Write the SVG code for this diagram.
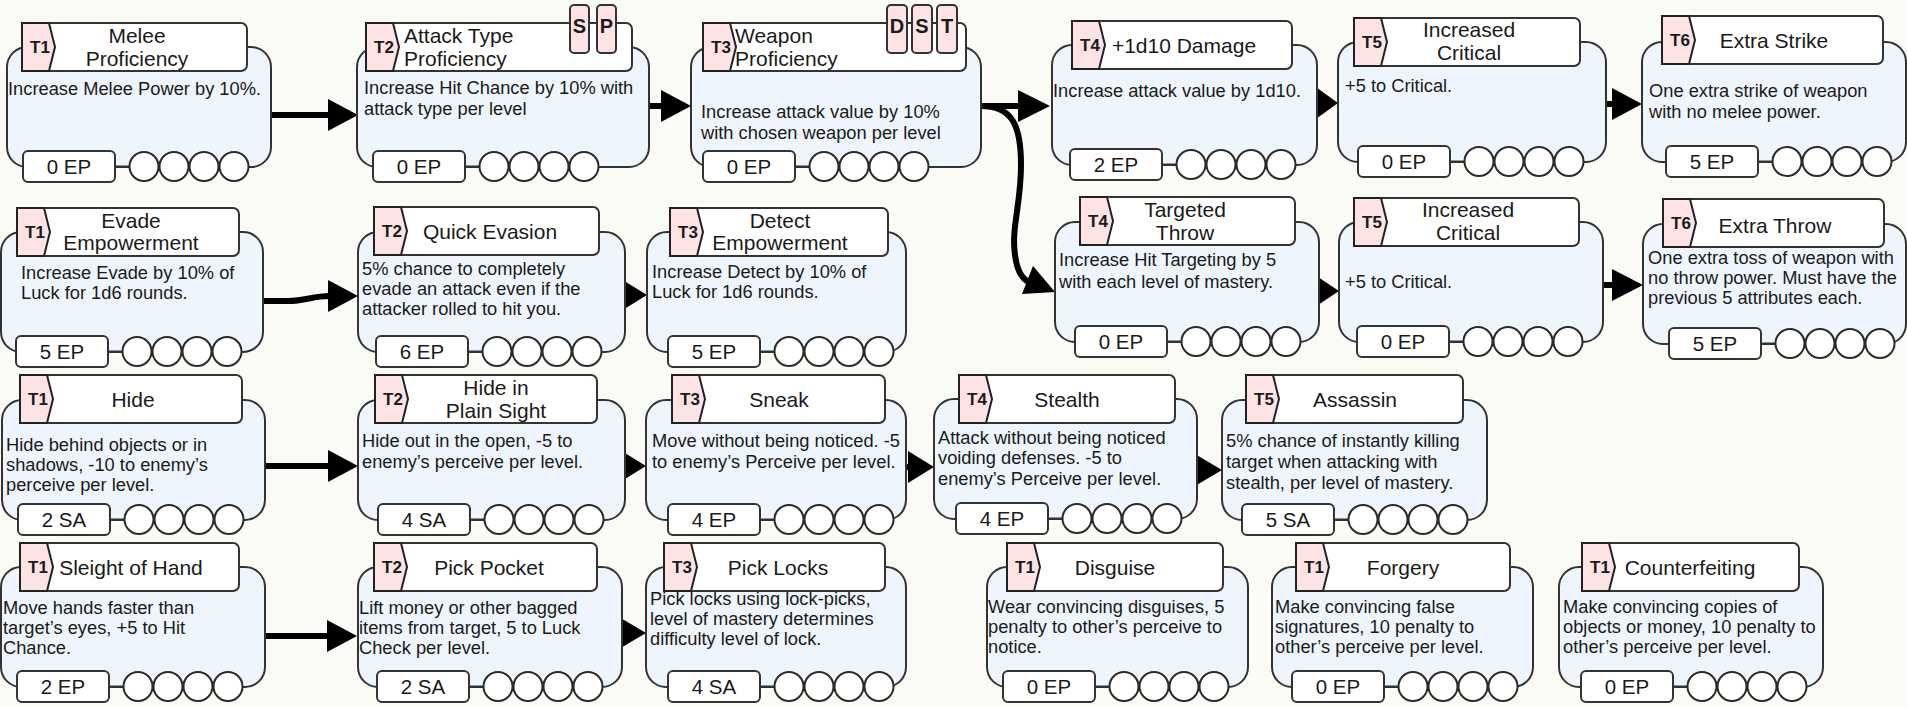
<svg xmlns="http://www.w3.org/2000/svg" xmlns:xlink="http://www.w3.org/1999/xlink" width="1907" height="707" viewBox="0 0 1907 707">
<style>
.bg{fill:#fbfbf5}
.body{fill:#eef5fd;stroke:#333;stroke-width:2}
.ttl{fill:#ffffff;stroke:#333;stroke-width:2}
.tab{fill:#fde3e3;stroke:#222;stroke-width:2;stroke-linejoin:miter}
.badge{fill:#fde3e3;stroke:#333;stroke-width:2}
.ep{fill:#ffffff;stroke:#333;stroke-width:2}
.dot{fill:#ffffff;stroke:#2a2a2a;stroke-width:2}
.lnk{stroke:#333;stroke-width:2}
text{font-family:"Liberation Sans",Arial,sans-serif;fill:#1a1a1a}
.tn{font-weight:bold;font-size:17px;text-anchor:middle}
.tt{font-size:21px;text-anchor:middle}
.tl{font-size:21px}
.ds{font-size:18.3px}
.et{font-size:20.5px;text-anchor:middle}
.bt{font-weight:bold;font-size:20px;text-anchor:middle}
.conn path{fill:none;stroke:#000;stroke-width:6}
.conn polygon{fill:#000}
</style>
<defs>
  <!-- tier tab with chevron edge -->
  <polygon id="tab" class="tab" points="0,0 27,0 33,24 27,48 0,48"/>
  <!-- cost box followed by four mastery pips -->
  <g id="pips">
    <line class="lnk" x1="92" y1="15.5" x2="108" y2="15.5"/>
    <rect class="ep" x="0" y="0" width="92" height="31" rx="5"/>
    <circle class="dot" cx="121" cy="15.5" r="14.5"/>
    <circle class="dot" cx="151" cy="15.5" r="14.5"/>
    <circle class="dot" cx="181" cy="15.5" r="14.5"/>
    <circle class="dot" cx="211" cy="15.5" r="14.5"/>
  </g>
</defs>
<rect class="bg" x="0" y="0" width="1907" height="707"/>

<!-- connectors -->
<g id="connectors" class="conn">
  <path d="M271,115 H330"/><polygon points="328,99 358,115 328,131"/>
  <path d="M649,106 H665"/><polygon points="661,90 691,106 661,122"/>
  <path d="M981,106 H1020"/><polygon points="1018,90 1050,106 1018,122"/>
  <path d="M981,106 C1012,106 1021,125 1021,165 C1021,205 1011,228 1015,255 C1017,270 1021,278 1030,283"/>
  <polygon points="1055,292 1033,266 1022,294"/>
  <polygon points="1313,85 1338,103 1313,121"/>
  <path d="M1606,104 H1614"/><polygon points="1612,88 1642,104 1612,120"/>
  <path d="M263,301 H288 C306,301 312,296 330,296"/><polygon points="328,280 358,296 328,312"/>
  <polygon points="621,279 647,295 621,311"/>
  <polygon points="1315,275 1339,291 1315,307"/>
  <path d="M1603,285 H1614"/><polygon points="1612,269 1643,285 1612,301"/>
  <path d="M265,466 H330"/><polygon points="328,450 358,466 328,482"/>
  <polygon points="620,450 646,466 620,482"/>
  <path d="M906,467 H912"/><polygon points="908,451 934,467 908,483"/>
  <polygon points="1195,454 1222,470 1195,486"/>
  <path d="M265,636 H330"/><polygon points="327,620 357,636 327,652"/>
  <polygon points="619,617 646,633 619,649"/>
</g>

<!-- row 1: melee line -->
<g id="melee-proficiency">
  <rect class="body" x="7" y="47" width="264" height="120" rx="20"/>
  <rect class="ttl" x="22" y="23" width="225" height="48" rx="6"/>
  <use href="#tab" x="22" y="23"/>
  <text class="tn" x="40" y="53">T1</text>
  <text class="tt" x="137" y="43">Melee</text>
  <text class="tt" x="137" y="66">Proficiency</text>
  <text class="ds" x="8" y="95">Increase Melee Power by 10%.</text>
  <use href="#pips" x="23" y="151"/>
  <text class="et" x="69" y="174">0 EP</text>
</g>

<g id="attack-type-proficiency">
  <rect class="body" x="357" y="47" width="292" height="120" rx="20"/>
  <rect class="ttl" x="366" y="23" width="266" height="48" rx="6"/>
  <use href="#tab" x="366" y="23"/>
  <text class="tn" x="384" y="53">T2</text>
  <rect class="badge" x="570" y="5" width="19" height="48" rx="4"/>
  <text class="bt" x="579.5" y="33">S</text>
  <rect class="badge" x="597" y="5" width="19" height="48" rx="4"/>
  <text class="bt" x="606.5" y="33">P</text>
  <text class="tl" x="404" y="43">Attack Type</text>
  <text class="tl" x="404" y="66">Proficiency</text>
  <text class="ds" x="364" y="94">Increase Hit Chance by 10% with</text>
  <text class="ds" x="364" y="115">attack type per level</text>
  <use href="#pips" x="373" y="151"/>
  <text class="et" x="419" y="174">0 EP</text>
</g>

<g id="weapon-proficiency">
  <rect class="body" x="691" y="47" width="290" height="120" rx="20"/>
  <rect class="ttl" x="703" y="23" width="263" height="48" rx="6"/>
  <use href="#tab" x="703" y="23"/>
  <text class="tn" x="721" y="53">T3</text>
  <rect class="badge" x="887" y="5" width="20" height="48" rx="4"/>
  <text class="bt" x="897" y="33">D</text>
  <rect class="badge" x="912" y="5" width="20" height="48" rx="4"/>
  <text class="bt" x="922" y="33">S</text>
  <rect class="badge" x="937" y="5" width="20" height="48" rx="4"/>
  <text class="bt" x="947" y="33">T</text>
  <text class="tl" x="735" y="43">Weapon</text>
  <text class="tl" x="735" y="66">Proficiency</text>
  <text class="ds" x="701" y="118">Increase attack value by 10%</text>
  <text class="ds" x="701" y="139">with chosen weapon per level</text>
  <use href="#pips" x="703" y="151"/>
  <text class="et" x="749" y="174">0 EP</text>
</g>

<g id="damage-1d10">
  <rect class="body" x="1052" y="45" width="265" height="120" rx="20"/>
  <rect class="ttl" x="1072" y="21" width="220" height="48" rx="6"/>
  <use href="#tab" x="1072" y="21"/>
  <text class="tn" x="1090" y="51">T4</text>
  <text class="tt" x="1184" y="53">+1d10 Damage</text>
  <text class="ds" x="1053" y="97">Increase attack value by 1d10.</text>
  <use href="#pips" x="1070" y="149"/>
  <text class="et" x="1116" y="172">2 EP</text>
</g>

<g id="increased-critical-strike">
  <rect class="body" x="1338" y="42" width="268" height="120" rx="20"/>
  <rect class="ttl" x="1354" y="18" width="226" height="48" rx="6"/>
  <use href="#tab" x="1354" y="18"/>
  <text class="tn" x="1372" y="48">T5</text>
  <text class="tt" x="1469" y="37">Increased</text>
  <text class="tt" x="1469" y="60">Critical</text>
  <text class="ds" x="1345" y="92">+5 to Critical.</text>
  <use href="#pips" x="1358" y="146"/>
  <text class="et" x="1404" y="169">0 EP</text>
</g>

<g id="extra-strike">
  <rect class="body" x="1642" y="42" width="264" height="120" rx="20"/>
  <rect class="ttl" x="1662" y="16" width="221" height="48" rx="6"/>
  <use href="#tab" x="1662" y="16"/>
  <text class="tn" x="1680" y="46">T6</text>
  <text class="tt" x="1774" y="48">Extra Strike</text>
  <text class="ds" x="1649" y="97">One extra strike of weapon</text>
  <text class="ds" x="1649" y="118">with no melee power.</text>
  <use href="#pips" x="1666" y="146"/>
  <text class="et" x="1712" y="169">5 EP</text>
</g>

<!-- row 2: evasion and throwing -->
<g id="evade-empowerment">
  <rect class="body" x="1" y="232" width="262" height="120" rx="20"/>
  <rect class="ttl" x="17" y="208" width="222" height="48" rx="6"/>
  <use href="#tab" x="17" y="208"/>
  <text class="tn" x="35" y="238">T1</text>
  <text class="tt" x="131" y="228">Evade</text>
  <text class="tt" x="131" y="250">Empowerment</text>
  <text class="ds" x="21" y="279">Increase Evade by 10% of</text>
  <text class="ds" x="21" y="299">Luck for 1d6 rounds.</text>
  <use href="#pips" x="16" y="336"/>
  <text class="et" x="62" y="359">5 EP</text>
</g>

<g id="quick-evasion">
  <rect class="body" x="358" y="232" width="267" height="120" rx="20"/>
  <rect class="ttl" x="374" y="207" width="225" height="48" rx="6"/>
  <use href="#tab" x="374" y="207"/>
  <text class="tn" x="392" y="237">T2</text>
  <text class="tt" x="490" y="239">Quick Evasion</text>
  <text class="ds" x="362" y="275">5% chance to completely</text>
  <text class="ds" x="362" y="295">evade an attack even if the</text>
  <text class="ds" x="362" y="315">attacker rolled to hit you.</text>
  <use href="#pips" x="376" y="336"/>
  <text class="et" x="422" y="359">6 EP</text>
</g>

<g id="detect-empowerment">
  <rect class="body" x="647" y="232" width="259" height="120" rx="20"/>
  <rect class="ttl" x="670" y="208" width="218" height="48" rx="6"/>
  <use href="#tab" x="670" y="208"/>
  <text class="tn" x="688" y="238">T3</text>
  <text class="tt" x="780" y="228">Detect</text>
  <text class="tt" x="780" y="250">Empowerment</text>
  <text class="ds" x="652" y="278">Increase Detect by 10% of</text>
  <text class="ds" x="652" y="298">Luck for 1d6 rounds.</text>
  <use href="#pips" x="668" y="336"/>
  <text class="et" x="714" y="359">5 EP</text>
</g>

<g id="targeted-throw">
  <rect class="body" x="1055" y="222" width="264" height="120" rx="20"/>
  <rect class="ttl" x="1080" y="197" width="215" height="48" rx="6"/>
  <use href="#tab" x="1080" y="197"/>
  <text class="tn" x="1098" y="227">T4</text>
  <text class="tt" x="1185" y="217">Targeted</text>
  <text class="tt" x="1185" y="240">Throw</text>
  <text class="ds" x="1059" y="266">Increase Hit Targeting by 5</text>
  <text class="ds" x="1059" y="288">with each level of mastery.</text>
  <use href="#pips" x="1075" y="326"/>
  <text class="et" x="1121" y="349">0 EP</text>
</g>

<g id="increased-critical-throw">
  <rect class="body" x="1339" y="222" width="264" height="120" rx="20"/>
  <rect class="ttl" x="1354" y="198" width="225" height="48" rx="6"/>
  <use href="#tab" x="1354" y="198"/>
  <text class="tn" x="1372" y="228">T5</text>
  <text class="tt" x="1468" y="217">Increased</text>
  <text class="tt" x="1468" y="240">Critical</text>
  <text class="ds" x="1345" y="288">+5 to Critical.</text>
  <use href="#pips" x="1357" y="326"/>
  <text class="et" x="1403" y="349">0 EP</text>
</g>

<g id="extra-throw">
  <rect class="body" x="1643" y="224" width="263" height="120" rx="20"/>
  <rect class="ttl" x="1663" y="199" width="221" height="48" rx="6"/>
  <use href="#tab" x="1663" y="199"/>
  <text class="tn" x="1681" y="229">T6</text>
  <text class="tt" x="1775" y="233">Extra Throw</text>
  <text class="ds" x="1648" y="264">One extra toss of weapon with</text>
  <text class="ds" x="1648" y="284">no throw power. Must have the</text>
  <text class="ds" x="1648" y="304">previous 5 attributes each.</text>
  <use href="#pips" x="1669" y="328"/>
  <text class="et" x="1715" y="351">5 EP</text>
</g>

<!-- row 3: stealth line -->
<g id="hide">
  <rect class="body" x="2" y="400" width="263" height="120" rx="20"/>
  <rect class="ttl" x="20" y="375" width="222" height="48" rx="6"/>
  <use href="#tab" x="20" y="375"/>
  <text class="tn" x="38" y="405">T1</text>
  <text class="tt" x="133" y="407">Hide</text>
  <text class="ds" x="6" y="451">Hide behind objects or in</text>
  <text class="ds" x="6" y="471">shadows, -10 to enemy’s</text>
  <text class="ds" x="6" y="491">perceive per level.</text>
  <use href="#pips" x="18" y="504"/>
  <text class="et" x="64" y="527">2 SA</text>
</g>

<g id="hide-in-plain-sight">
  <rect class="body" x="358" y="400" width="267" height="120" rx="20"/>
  <rect class="ttl" x="375" y="375" width="222" height="48" rx="6"/>
  <use href="#tab" x="375" y="375"/>
  <text class="tn" x="393" y="405">T2</text>
  <text class="tt" x="496" y="395">Hide in</text>
  <text class="tt" x="496" y="418">Plain Sight</text>
  <text class="ds" x="362" y="447">Hide out in the open, -5 to</text>
  <text class="ds" x="362" y="468">enemy’s perceive per level.</text>
  <use href="#pips" x="378" y="504"/>
  <text class="et" x="424" y="527">4 SA</text>
</g>

<g id="sneak">
  <rect class="body" x="646" y="400" width="260" height="120" rx="20"/>
  <rect class="ttl" x="672" y="375" width="213" height="48" rx="6"/>
  <use href="#tab" x="672" y="375"/>
  <text class="tn" x="690" y="405">T3</text>
  <text class="tt" x="779" y="407">Sneak</text>
  <text class="ds" x="652" y="447">Move without being noticed. -5</text>
  <text class="ds" x="652" y="468">to enemy’s Perceive per level.</text>
  <use href="#pips" x="668" y="504"/>
  <text class="et" x="714" y="527">4 EP</text>
</g>

<g id="stealth">
  <rect class="body" x="934" y="399" width="263" height="120" rx="20"/>
  <rect class="ttl" x="959" y="375" width="216" height="48" rx="6"/>
  <use href="#tab" x="959" y="375"/>
  <text class="tn" x="977" y="405">T4</text>
  <text class="tt" x="1067" y="407">Stealth</text>
  <text class="ds" x="938" y="444">Attack without being noticed</text>
  <text class="ds" x="938" y="464">voiding defenses. -5 to</text>
  <text class="ds" x="938" y="485">enemy’s Perceive per level.</text>
  <use href="#pips" x="956" y="503"/>
  <text class="et" x="1002" y="526">4 EP</text>
</g>

<g id="assassin">
  <rect class="body" x="1222" y="400" width="265" height="120" rx="20"/>
  <rect class="ttl" x="1246" y="375" width="217" height="48" rx="6"/>
  <use href="#tab" x="1246" y="375"/>
  <text class="tn" x="1264" y="405">T5</text>
  <text class="tt" x="1355" y="407">Assassin</text>
  <text class="ds" x="1226" y="447">5% chance of instantly killing</text>
  <text class="ds" x="1226" y="468">target when attacking with</text>
  <text class="ds" x="1226" y="489">stealth, per level of mastery.</text>
  <use href="#pips" x="1242" y="504"/>
  <text class="et" x="1288" y="527">5 SA</text>
</g>

<!-- row 4: thievery skills -->
<g id="sleight-of-hand">
  <rect class="body" x="1" y="567" width="264" height="120" rx="20"/>
  <rect class="ttl" x="20" y="543" width="219" height="48" rx="6"/>
  <use href="#tab" x="20" y="543"/>
  <text class="tn" x="38" y="573">T1</text>
  <text class="tt" x="131" y="575">Sleight of Hand</text>
  <text class="ds" x="3" y="614">Move hands faster than</text>
  <text class="ds" x="3" y="634">target’s eyes, +5 to Hit</text>
  <text class="ds" x="3" y="654">Chance.</text>
  <use href="#pips" x="17" y="671"/>
  <text class="et" x="63" y="694">2 EP</text>
</g>

<g id="pick-pocket">
  <rect class="body" x="358" y="567" width="264" height="120" rx="20"/>
  <rect class="ttl" x="374" y="543" width="223" height="48" rx="6"/>
  <use href="#tab" x="374" y="543"/>
  <text class="tn" x="392" y="573">T2</text>
  <text class="tt" x="489" y="575">Pick Pocket</text>
  <text class="ds" x="359" y="614">Lift money or other bagged</text>
  <text class="ds" x="359" y="634">items from target, 5 to Luck</text>
  <text class="ds" x="359" y="654">Check per level.</text>
  <use href="#pips" x="377" y="671"/>
  <text class="et" x="423" y="694">2 SA</text>
</g>

<g id="pick-locks">
  <rect class="body" x="646" y="567" width="260" height="120" rx="20"/>
  <rect class="ttl" x="664" y="543" width="221" height="48" rx="6"/>
  <use href="#tab" x="664" y="543"/>
  <text class="tn" x="682" y="573">T3</text>
  <text class="tt" x="778" y="575">Pick Locks</text>
  <text class="ds" x="650" y="605">Pick locks using lock-picks,</text>
  <text class="ds" x="650" y="625">level of mastery determines</text>
  <text class="ds" x="650" y="645">difficulty level of lock.</text>
  <use href="#pips" x="668" y="671"/>
  <text class="et" x="714" y="694">4 SA</text>
</g>

<g id="disguise">
  <rect class="body" x="987" y="567" width="261" height="120" rx="20"/>
  <rect class="ttl" x="1007" y="543" width="216" height="48" rx="6"/>
  <use href="#tab" x="1007" y="543"/>
  <text class="tn" x="1025" y="573">T1</text>
  <text class="tt" x="1115" y="575">Disguise</text>
  <text class="ds" x="988" y="613">Wear convincing disguises, 5</text>
  <text class="ds" x="988" y="633">penalty to other’s perceive to</text>
  <text class="ds" x="988" y="653">notice.</text>
  <use href="#pips" x="1003" y="671"/>
  <text class="et" x="1049" y="694">0 EP</text>
</g>

<g id="forgery">
  <rect class="body" x="1272" y="567" width="261" height="120" rx="20"/>
  <rect class="ttl" x="1296" y="543" width="214" height="48" rx="6"/>
  <use href="#tab" x="1296" y="543"/>
  <text class="tn" x="1314" y="573">T1</text>
  <text class="tt" x="1403" y="575">Forgery</text>
  <text class="ds" x="1275" y="613">Make convincing false</text>
  <text class="ds" x="1275" y="633">signatures, 10 penalty to</text>
  <text class="ds" x="1275" y="653">other’s perceive per level.</text>
  <use href="#pips" x="1292" y="671"/>
  <text class="et" x="1338" y="694">0 EP</text>
</g>

<g id="counterfeiting">
  <rect class="body" x="1559" y="567" width="264" height="120" rx="20"/>
  <rect class="ttl" x="1582" y="543" width="217" height="48" rx="6"/>
  <use href="#tab" x="1582" y="543"/>
  <text class="tn" x="1600" y="573">T1</text>
  <text class="tt" x="1690" y="575">Counterfeiting</text>
  <text class="ds" x="1563" y="613">Make convincing copies of</text>
  <text class="ds" x="1563" y="633">objects or money, 10 penalty to</text>
  <text class="ds" x="1563" y="653">other’s perceive per level.</text>
  <use href="#pips" x="1581" y="671"/>
  <text class="et" x="1627" y="694">0 EP</text>
</g>
</svg>
